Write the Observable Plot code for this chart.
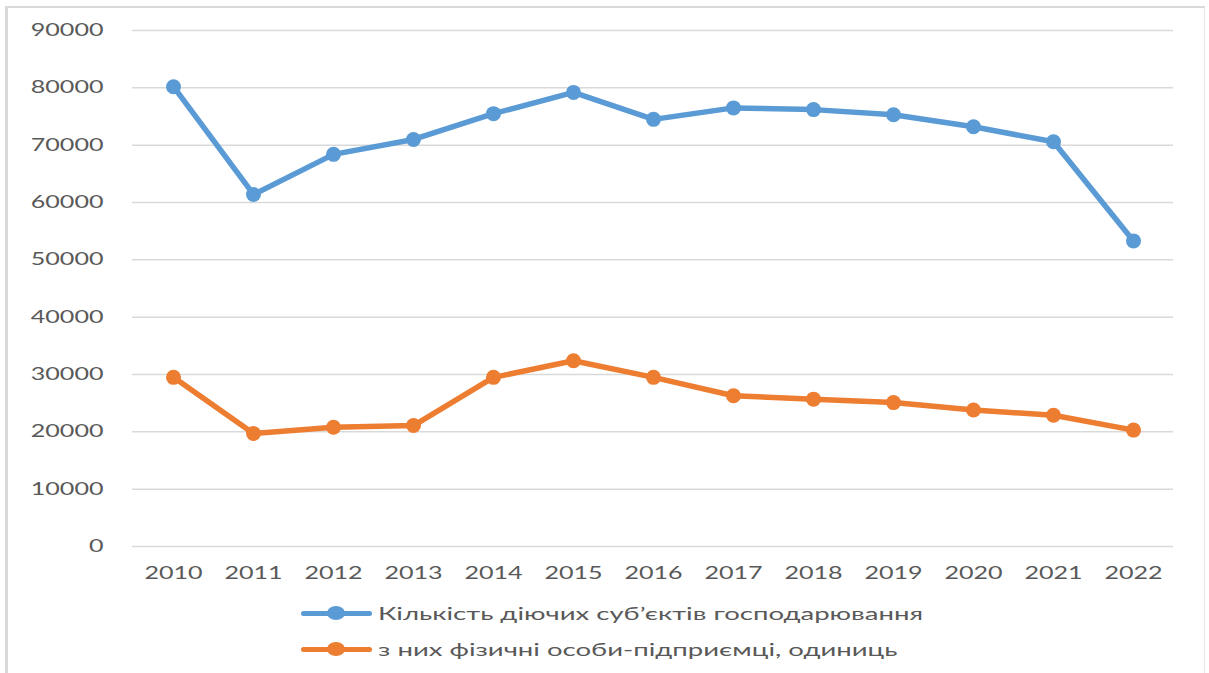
<!DOCTYPE html>
<html>
<head>
<meta charset="utf-8">
<script src="https://cdn.jsdelivr.net/npm/d3@7"></script>
<script src="https://cdn.jsdelivr.net/npm/@observablehq/plot@0.6"></script>
<style>
  html, body { margin: 0; padding: 0; background: #fff; }
  #wrap { position: relative; width: 1209px; height: 673px; overflow: hidden; font-family: Lato, "Open Sans", sans-serif; }
  #frame { position: absolute; left: 5px; top: 6px; width: 1200px; height: 720px;
           border-left: 3px solid #d9d9d9; border-top: 2px solid #d9d9d9; border-right: 1px solid #e6e6e6; box-sizing: border-box; }
  #chart { position: absolute; left: 0; top: 0; }
  .leg { position: absolute; left: 301px; height: 20px; display: flex; align-items: center; white-space: nowrap; }
  .sw { position: relative; width: 71px; height: 20px; flex: none; }
  .sw .ln { position: absolute; left: 0; right: 0; top: 7.5px; height: 5px; border-radius: 2.5px; }
  .sw .mk { position: absolute; left: 26px; top: 3px; width: 18px; height: 14px; border-radius: 50%; }
  .lt { margin-left: 6px; font-size: 17px; color: #595959; transform-origin: 0 50%; display: inline-block; }
</style>
</head>
<body>
<div id="wrap">
  <div id="frame"></div>
  <div id="chart"></div>
  <div class="leg" style="top:603px">
    <div class="sw"><div class="ln" style="background:#5b9bd5"></div><div class="mk" style="background:#5b9bd5"></div></div>
    <span class="lt" id="lt1">Кількість діючих суб’єктів господарювання</span>
  </div>
  <div class="leg" style="top:639px">
    <div class="sw"><div class="ln" style="background:#ed7d31"></div><div class="mk" style="background:#ed7d31"></div></div>
    <span class="lt" id="lt2">з них фізичні особи-підприємці, одиниць</span>
  </div>
</div>
<script>
const years = ["2010","2011","2012","2013","2014","2015","2016","2017","2018","2019","2020","2021","2022"];
const totalEntities = [80200, 61400, 68400, 71000, 75500, 79200, 74500, 76500, 76200, 75300, 73200, 70600, 53300];
const soleProprietors = [29500, 19700, 20800, 21100, 29500, 32400, 29500, 26300, 25700, 25100, 23800, 22900, 20300];
const yTicks = [0, 10000, 20000, 30000, 40000, 50000, 60000, 70000, 80000, 90000];
const seriesNames = ["Кількість діючих суб’єктів господарювання", "з них фізичні особи-підприємці, одиниць"];
const seriesColors = ["#5b9bd5", "#ed7d31"];

const data = [];
years.forEach((y, i) => {
  data.push({year: y, value: totalEntities[i], series: seriesNames[0]});
  data.push({year: y, value: soleProprietors[i], series: seriesNames[1]});
});

const chart = Plot.plot({
  width: 1209,
  height: 595,
  marginLeft: 132,
  marginRight: 36,
  marginTop: 30,
  marginBottom: 49,
  style: {fontFamily: "Lato, 'Open Sans', sans-serif", fontSize: "17px", color: "#595959", background: "transparent"},
  x: {type: "point", domain: years, padding: 0.5, label: null},
  y: {domain: [0, 90000], ticks: yTicks, label: null},
  color: {domain: seriesNames, range: seriesColors},
  marks: [
    Plot.ruleY(yTicks, {stroke: "#d9d9d9", strokeWidth: 1.5}),
    Plot.axisY({ticks: yTicks, tickSize: 0, tickPadding: 29, tickFormat: d => String(d), label: null, fill: "#595959"}),
    Plot.axisX({tickSize: 0, tickPadding: 20, label: null, fill: "#595959"}),
    Plot.line(data, {x: "year", y: "value", z: "series", stroke: "series", strokeWidth: 5.5, strokeLinejoin: "round", strokeLinecap: "round"}),
    Plot.dot(data, {x: "year", y: "value", fill: "series", r: 7.5, stroke: "none"})
  ]
});
document.getElementById("chart").appendChild(chart);

// Horizontal stretch of label text, as in the reference
const texts = chart.querySelectorAll('g[aria-label$="tick label"] text');
let ref = null;
texts.forEach(t => { if (t.textContent === "90000") ref = t; });
const k = ref ? 73 / ref.getBBox().width : 1.4;
texts.forEach(t => {
  t.setAttribute("transform", (t.getAttribute("transform") || "") + ` scale(${k},1)`);
});
// Stretch legend text to match
const lt1 = document.getElementById("lt1");
const w = lt1.getBoundingClientRect().width;
const kl = 545 / w;
document.querySelectorAll(".lt").forEach(s => s.style.transform = `scaleX(${kl})`);
</script>
</body>
</html>
